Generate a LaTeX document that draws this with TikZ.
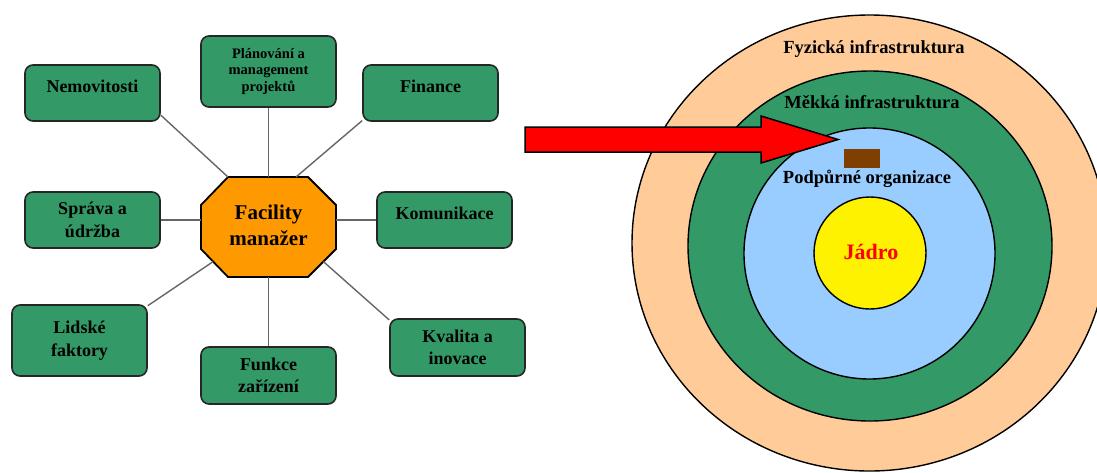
\documentclass[tikz,border=0pt]{standalone}
\usepackage{fontspec}
\setmainfont{Liberation Serif}
\usepackage{xcolor}
\usetikzlibrary{calc}

\definecolor{boxgreen}{HTML}{339966}
\definecolor{fmorange}{HTML}{FF9900}
\definecolor{peach}{HTML}{FFCC99}
\definecolor{skyblue}{HTML}{99CCFF}
\definecolor{corebrown}{HTML}{7F3F00}

\tikzset{
  area/.style={rectangle, rounded corners=8pt, draw=black!85, line width=1.6pt,
    fill=boxgreen, minimum width=135pt, align=center, inner sep=2pt,
    font=\bfseries\fontsize{18}{22.5}\selectfont},
  raised/.style={text height=12pt, text depth=14pt},
  link/.style={draw=black!60, line width=1.4pt},
  ring/.style={draw=black, line width=1.4pt},
  ringlabel/.style={anchor=base, inner sep=0pt, font=\bfseries\fontsize{18.5}{21}\selectfont}
}

\begin{document}
\begin{tikzpicture}[x=1pt, y=-1pt]
  \useasboundingbox (0,0) rectangle (1097,472);
  \clip (0,0) rectangle (1097,472);
  % facility manager: octagon corners
  \foreach \n/\p in {1/{228,177}, 2/{308,177}, 3/{336,205}, 4/{336,249},
                     5/{308,277}, 6/{228,277}, 7/{201,249}, 8/{201,205}}
    \coordinate (o\n) at (\p);
  \draw[line width=1.8pt, fill=fmorange, line join=miter]
    (o1) -- (o2) -- (o3) -- (o4) -- (o5) -- (o6) -- (o7) -- (o8) -- cycle;
  \node[minimum width=135pt, minimum height=100pt, inner sep=0pt, align=center,
        font=\bfseries\fontsize{21}{26}\selectfont] (fm) at (268.5,225) {Facility\\manažer};
  % areas round him
  \node[area, raised, minimum height=56pt] (nem) at (92.5,93) {Nemovitosti};
  \node[area, minimum height=71pt, font=\bfseries\fontsize{14.5}{16.5}\selectfont]
        (plan) at (268.5,71.5) {Plánování a\\management\\projektů};
  \node[area, raised, minimum height=56pt] (fin) at (430.5,93) {Finance};
  \node[area, minimum height=56pt] (spr) at (92.5,220) {Správa a\\údržba};
  \node[area, raised, minimum height=56pt] (kom) at (444.5,220) {Komunikace};
  \node[area, minimum height=71pt] (lid) at (79.5,340.5) {Lidské\\faktory};
  \node[area, minimum height=57pt] (fun) at (268.5,375.5) {Funkce\\zařízení};
  \node[area, minimum height=57pt] (kva) at (457.5,347.5) {Kvalita a\\inovace};
  % spokes
  \draw[link] (nem.-18) -- (o1);
  \draw[link] (fin.-158) -- ($(o1)!0.85!(o2)$);
  \draw[link] (lid.27) -- ($(o7)!0.45!(o6)$);
  \draw[link] (kva.158) -- ($(o4)!0.45!(o5)$);
  \draw[link] (plan.south) -- (plan.south |- o1);
  \draw[link] (fun.north |- o5) -- (fun.north);
  \draw[link] (spr.east) -- (spr.east -| o8);
  \draw[link] (kom.west -| o3) -- (kom.west);
  % onion of the organisation
  \draw[ring, fill=peach] (869.5,243) ellipse [x radius=237.5pt, y radius=228pt];
  \draw[ring, fill=boxgreen] (870,246) ellipse [x radius=182pt, y radius=175pt];
  \draw[ring, fill=skyblue] (869.5,253.5) circle [radius=125.5pt];
  \draw[ring, fill=yellow] (870,253) circle [radius=56pt];
  \fill[corebrown] (844,149) rectangle (880,168);
  \node[ringlabel] (phys) at (874,53) {Fyzická infrastruktura};
  \node[ringlabel] (soft) at (872,108) {Měkká infrastruktura};
  \node[ringlabel] (supp) at (867,183) {Podpůrné organizace};
  \node[ringlabel, text=red, font=\bfseries\fontsize{22}{26}\selectfont] (core) at (871,259) {Jádro};
  % big arrow
  \draw[line width=1.5pt, fill=red, line join=miter]
    (525,127) -- (761,127) -- (761,116) -- (838,139.5) -- (761,163) -- (761,152) -- (525,152) -- cycle;
\end{tikzpicture}
\end{document}
